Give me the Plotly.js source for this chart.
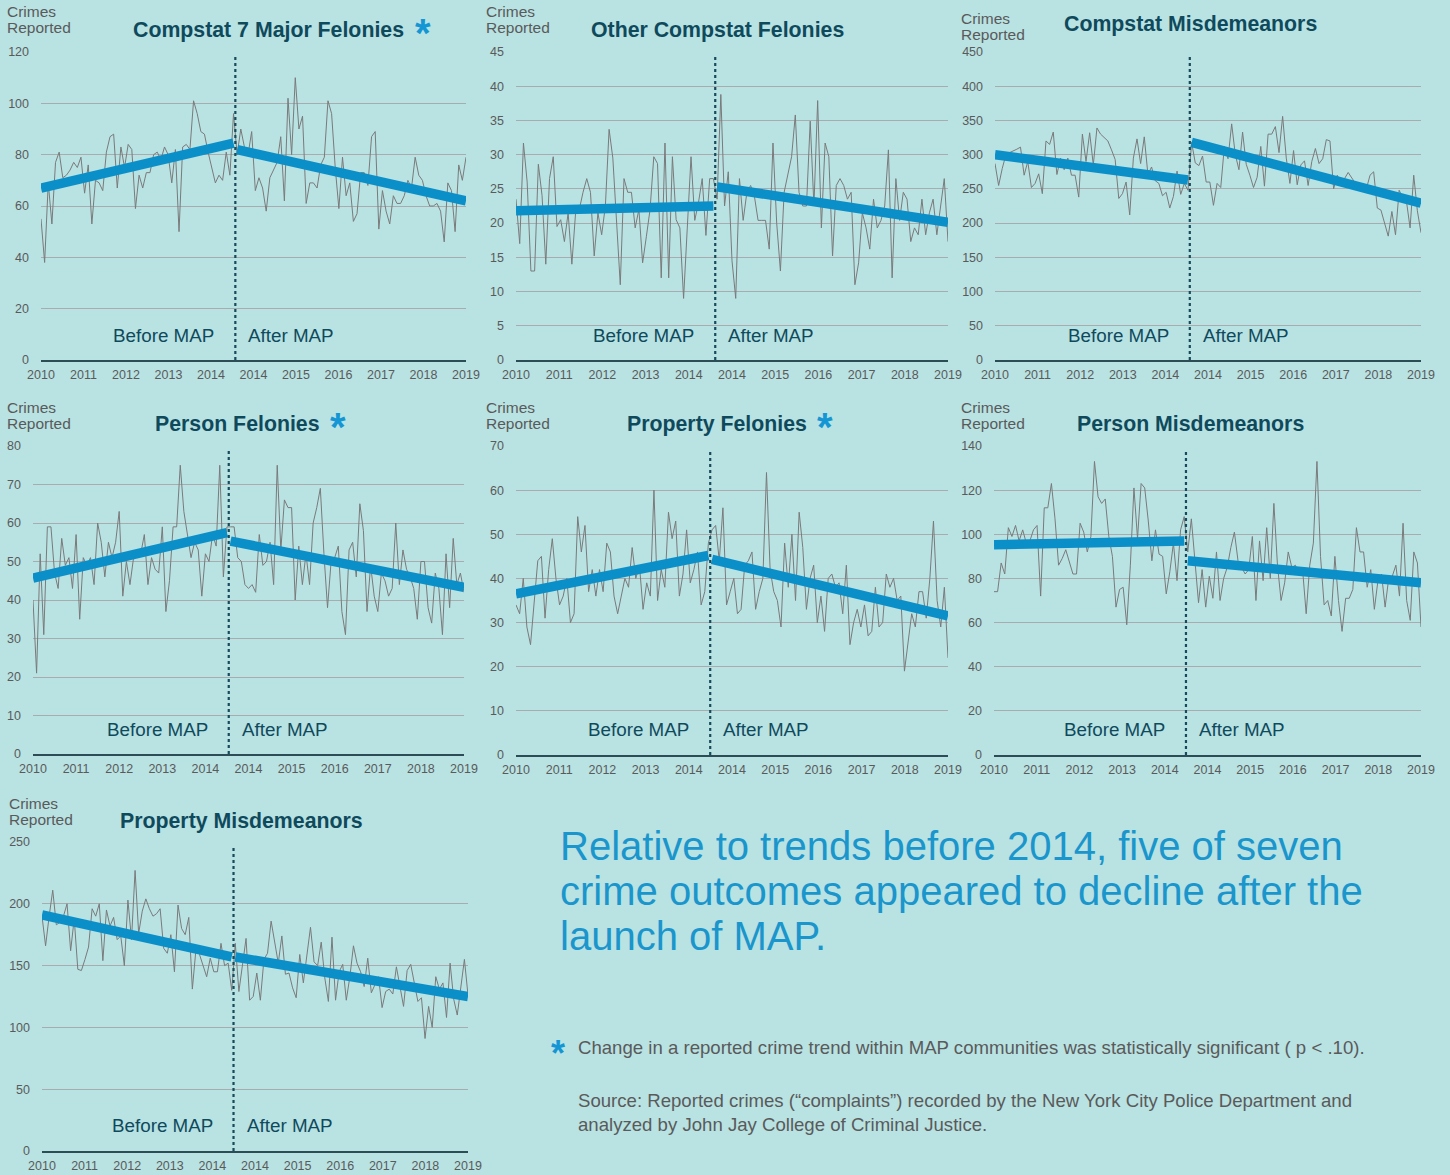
<!DOCTYPE html>
<html><head><meta charset="utf-8">
<script src="https://cdn.plot.ly/plotly-3.0.1.min.js"></script>
<style>html,body{margin:0;padding:0;background:#b9e2e3;} #chart{width:1450px;height:1175px;}</style>
</head><body><div id="chart"></div>
<script>
// ---------------- DATA ----------------
const xTickLabels = ["2010","2011","2012","2013","2014","2014","2015","2016","2017","2018","2019"];
const panelTitles = ["Compstat 7 Major Felonies","Other Compstat Felonies","Compstat Misdemeanors","Person Felonies","Property Felonies","Person Misdemeanors","Property Misdemeanors"];
const significant = [true,false,false,true,true,false,false];
const yAxisLabelLines = ["Crimes","Reported"];
const beforeLabel = "Before MAP";
const afterLabel = "After MAP";

const major7Pre = [55,38,69,53,77,81,71,72,74,77,75,79,65,76,53,70,69,66,81,87,88,67,83,75,84,82,59,72,67,73,73,80,81,78,83,80,69,82,50,83,84,82,101,96,89,88,81,75,69,72,70,81,72,96];
const major7Post = [80,90,83,80,89,66,71,67,58,71,74,77,87,62,102,80,110,90,95,61,69,69,67,76,79,101,96,75,59,79,64,69,54,57,73,73,68,87,89,51,66,58,53,64,61,61,64,70,67,79,72,70,64,60,60,61,58,46,69,66,50,76,70,79];
const major7TrendPre = [67,84.5];
const major7TrendPost = [82,62];

const otherFelPre = [23.5,17,31.7,26,13,13,28.6,24,14,26.5,29.7,19.5,20.5,17.3,21.5,14,21.5,22,24.5,26.5,24.5,15.2,21.5,18.3,22.5,33.7,29.5,21,11,26.5,24.5,24.5,19.3,22,14.2,18,22,29.7,28.7,12,31.7,12,29.7,20.5,19.3,9,19.5,29.7,20.4,23,26.5,18.2,26.5,26.5];
const otherFelPost = [23.5,38.8,22.5,27.5,14.5,9,26.5,20.4,24.5,25.5,24,20.4,20.4,20.4,16.2,31.7,20,13,24.5,27,29.7,35.8,24.5,22.5,22.5,34.9,22.5,37.9,19.3,31.7,29.7,15.2,25.5,26.5,25.5,23.5,24.5,11,14.2,21.5,19.3,16.2,23.5,19.3,20.4,22.5,30.7,12,26.5,20.4,24.5,23.5,17.3,19.3,18.3,23.5,18.3,21.5,23.5,18.3,22.5,26.5,17.3];
const otherFelTrendPre = [21.8,22.5];
const otherFelTrendPost = [25.3,20.1];

const misdPre = [287,255,280,300,303,305,308,311,270,290,252,258,272,243,320,315,333,271,295,278,295,270,270,238,330,290,332,285,339,330,325,320,307,293,236,243,260,212,295,323,287,326,271,282,262,258,240,245,222,239,276,242,258,248];
const misdPost = [318,288,284,298,260,260,226,258,252,312,294,345,300,278,333,286,270,252,267,312,254,330,330,341,303,356,295,258,306,256,285,291,255,290,309,287,294,322,320,250,270,260,265,274,266,258,254,255,250,270,275,222,219,198,181,217,183,248,237,232,193,270,218,186];
const misdTrendPre = [300,263];
const misdTrendPost = [318,229];

const personFelPre = [40,21,52,31,59,59,47,43,56,49,51,43,57,35,51,49,51,44,60,55,46,55,51,55,63,41,50,44,51,53,52,57,44,51,48,47,59,37,45,59,59,75,63,57,51,55,53,41,52,50,57,54,75,46,59];
const personFelPost = [59,59,51,50,44,43,44,42,57,49,50,55,44,75,53,66,64,64,40,54,44,52,44,60,64,69,52,38,50,51,54,37,31,53,55,46,65,58,37,49,41,37,47,45,41,43,60,44,53,48,46,43,35,50,50,38,34,47,43,31,52,38,56,44,47,42];
const personFelTrendPre = [45.7,57.5];
const personFelTrendPost = [55.3,43.3];

const propFelPre = [34,32,40,29,25,34,44,45,31,42,49,40,34,36,40,30,32,54,46,52,37,42,36,42,37,48,46,36,32,36,40,38,47,40,43,33,39,36,60,35,42,38,55,49,53,36,41,51,39,42,46,34,37,48];
const propFelPost = [51,52,44,56,34,37,40,32,33,43,44,46,33,37,40,64,42,37,35,29,48,38,50,35,55,47,33,40,43,30,36,28,40,41,38,39,32,43,25,30,33,29,34,27,28,38,29,30,41,38,40,35,36,19,25,32,29,37,37,31,40,53,35,29,38,22];
const propFelTrendPre = [36.5,45.2];
const propFelTrendPost = [44.3,31.5];

const personMisdPre = [74,74,87,82,103,99,104,97,102,96,97,102,104,72,112,112,123,107,86,89,93,87,82,82,105,101,92,99,133,117,114,116,99,90,67,75,76,59,86,121,98,123,121,106,88,102,91,90,73,83,96,79,102,108];
const personMisdPost = [92,107,89,69,84,67,81,71,92,70,80,85,94,101,88,85,82,84,99,70,97,79,103,80,114,86,70,78,92,85,86,82,84,64,86,96,133,90,68,70,63,90,70,56,71,71,75,103,92,92,76,84,66,79,82,67,80,81,86,72,105,70,61,92,87,58];
const personMisdTrendPre = [95.3,97];
const personMisdTrendPost = [88,78];

const propMisdPre = [190,166,190,211,183,185,190,200,162,188,147,146,155,165,196,190,200,154,195,182,189,171,174,150,203,171,227,176,194,204,196,190,192,196,164,160,175,145,199,180,175,189,131,163,159,149,141,156,145,145,168,150,152,130];
const propMisdPost = [168,129,150,172,122,125,144,122,155,160,186,168,152,174,143,144,132,124,159,136,157,181,153,150,169,140,121,173,122,145,151,122,141,166,152,145,133,156,128,135,141,116,129,131,127,149,134,117,146,151,136,121,124,91,117,100,141,131,136,108,152,123,110,134,155,126];
const propMisdTrendPre = [191,157];
const propMisdTrendPost = [157,125];

const yMax = [120,45,450,80,70,140,250];
const yStep = [20,5,50,10,10,20,50];

const headline = ["Relative to trends before 2014, five of seven","crime outcomes appeared to decline after the","launch of MAP."];
const footnote = "Change in a reported crime trend within MAP communities was statistically significant ( p < .10).";
const sourceLines = ["Source: Reported crimes (\u201ccomplaints\u201d) recorded by the New York City Police Department and","analyzed by John Jay College of Criminal Justice."];

// ---------------- LAYOUT (pixel boxes) ----------------
const W = 1450, H = 1175;
const boxes = [
  {x:[41,466], y:[52,360], title:[268,30], star:[423,33], crimes:[5,12]},
  {x:[516,948], y:[52,360], title:[717,30], star:null, crimes:[484,12]},
  {x:[995,1421], y:[52,360], title:[1190,24], star:null, crimes:[959,18]},
  {x:[33,464], y:[446,754], title:[237,424], star:[338,427], crimes:[5,407]},
  {x:[516,948], y:[446,755], title:[717,424], star:[825,427], crimes:[484,407]},
  {x:[994,1421], y:[446,755], title:[1190,424], star:null, crimes:[959,407]},
  {x:[42,468], y:[842,1151], title:[242,821], star:null, crimes:[7,803]}
];
const series = [
  [major7Pre, major7Post, major7TrendPre, major7TrendPost],
  [otherFelPre, otherFelPost, otherFelTrendPre, otherFelTrendPost],
  [misdPre, misdPost, misdTrendPre, misdTrendPost],
  [personFelPre, personFelPost, personFelTrendPre, personFelTrendPost],
  [propFelPre, propFelPost, propFelTrendPre, propFelTrendPost],
  [personMisdPre, personMisdPost, personMisdTrendPre, personMisdTrendPost],
  [propMisdPre, propMisdPost, propMisdTrendPre, propMisdTrendPost]
];

const FONT = "Liberation Sans, Arial, sans-serif";
const BG = "#b9e2e3";
const BLUE = "#0b8fc8";
const DARK = "#0f4a5c";
const GREY_TXT = "#5a5a5a";
const px = v => v / W;
const py = v => 1 - v / H;

const traces = [];
const layout = {
  width: W, height: H, margin: {l:0, r:0, t:0, b:0},
  paper_bgcolor: BG, plot_bgcolor: BG, showlegend: false,
  font: {family: FONT, color: GREY_TXT},
  shapes: [], annotations: []
};

series.forEach((s, i) => {
  const k = i + 1, suf = k === 1 ? "" : String(k);
  const [pre, post, tPre, tPost] = s;
  const nPre = pre.length, n = pre.length + post.length;
  const xs = Array.from({length: n}, (_, j) => j);
  const b = boxes[i];
  traces.push({x: xs, y: pre.concat(post), xaxis: "x"+suf, yaxis: "y"+suf, mode: "lines",
    line: {color: "#7a7a7a", width: 1}, hoverinfo: "skip"});
  traces.push({x: [0, nPre-1], y: tPre, xaxis: "x"+suf, yaxis: "y"+suf, mode: "lines",
    line: {color: BLUE, width: 9.5}, hoverinfo: "skip"});
  traces.push({x: [nPre, n-1], y: tPost, xaxis: "x"+suf, yaxis: "y"+suf, mode: "lines",
    line: {color: BLUE, width: 9.5}, hoverinfo: "skip"});
  const tickvals = xTickLabels.map((_, j) => j * (n-1) / 10);
  layout["xaxis"+suf] = {domain: [px(b.x[0]), px(b.x[1])], anchor: "y"+suf, range: [0, n-1],
    tickmode: "array", tickvals: tickvals, ticktext: xTickLabels, showgrid: false, zeroline: false,
    showline: true, linecolor: "#2c4c56", linewidth: 2, ticks: "", tickangle: 0, ticklabelstandoff: 2,
    tickfont: {family: FONT, size: 12.5, color: GREY_TXT}, fixedrange: true};
  layout["yaxis"+suf] = {domain: [py(b.y[1]), py(b.y[0])], anchor: "x"+suf, range: [0, yMax[i]],
    dtick: yStep[i], tick0: 0, showgrid: true, gridcolor: "#a9acae", gridwidth: 1, zeroline: false,
    showline: false, ticks: "", ticklabelstandoff: 11, tickfont: {family: FONT, size: 12.5, color: GREY_TXT}, fixedrange: true};
  const mapX = nPre - 0.5;
  layout.shapes.push({type: "line", xref: "x"+suf, yref: "y"+suf+" domain", x0: mapX, x1: mapX,
    y0: 0, y1: 0.985, line: {color: "#174a5a", width: 2.2, dash: "dot"}});
  layout.annotations.push({xref: "x"+suf, yref: "y"+suf+" domain", x: mapX, y: 0.081, xanchor: "right",
    yanchor: "middle", xshift: -19, text: beforeLabel, showarrow: false, font: {family: FONT, size: 18.8, color: DARK}});
  layout.annotations.push({xref: "x"+suf, yref: "y"+suf+" domain", x: mapX, y: 0.081, xanchor: "left",
    yanchor: "middle", xshift: 11, text: afterLabel, showarrow: false, font: {family: FONT, size: 18.8, color: DARK}});
  layout.annotations.push({xref: "paper", yref: "paper", x: px(b.title[0]), y: py(b.title[1]), xanchor: "center",
    yanchor: "middle", text: "<b>" + panelTitles[i] + "</b>", showarrow: false, font: {family: FONT, size: 21.3, color: DARK}});
  if (significant[i] && b.star) {
    layout.annotations.push({xref: "paper", yref: "paper", x: px(b.star[0]), y: py(b.star[1]), xanchor: "center",
      yanchor: "middle", text: "<b>*</b>", showarrow: false, font: {family: FONT, size: 40, color: "#1496d4"}});
  }
  yAxisLabelLines.forEach((t, j) => {
    layout.annotations.push({xref: "paper", yref: "paper", x: px(b.crimes[0]), y: py(b.crimes[1] + 16*j), xanchor: "left",
      yanchor: "middle", text: t, showarrow: false, font: {family: FONT, size: 15.5, color: GREY_TXT}});
  });
});

headline.forEach((t, j) => {
  layout.annotations.push({xref: "paper", yref: "paper", x: px(558), y: py(846 + 45*j), xanchor: "left", yanchor: "middle",
    text: t, showarrow: false, font: {family: FONT, size: 40, color: "#1a96cc"}});
});
layout.annotations.push({xref: "paper", yref: "paper", x: px(558), y: py(1053), xanchor: "center", yanchor: "middle",
  text: "<b>*</b>", showarrow: false, font: {family: FONT, size: 36, color: "#1496d4"}});
layout.annotations.push({xref: "paper", yref: "paper", x: px(576), y: py(1047), xanchor: "left", yanchor: "middle",
  text: footnote, showarrow: false, font: {family: FONT, size: 18.6, color: GREY_TXT}});
sourceLines.forEach((t, j) => {
  layout.annotations.push({xref: "paper", yref: "paper", x: px(576), y: py(1100 + 24*j), xanchor: "left", yanchor: "middle",
    text: t, showarrow: false, font: {family: FONT, size: 18.6, color: GREY_TXT}});
});

Plotly.newPlot("chart", traces, layout, {staticPlot: true, displayModeBar: false});
</script>
</body></html>
